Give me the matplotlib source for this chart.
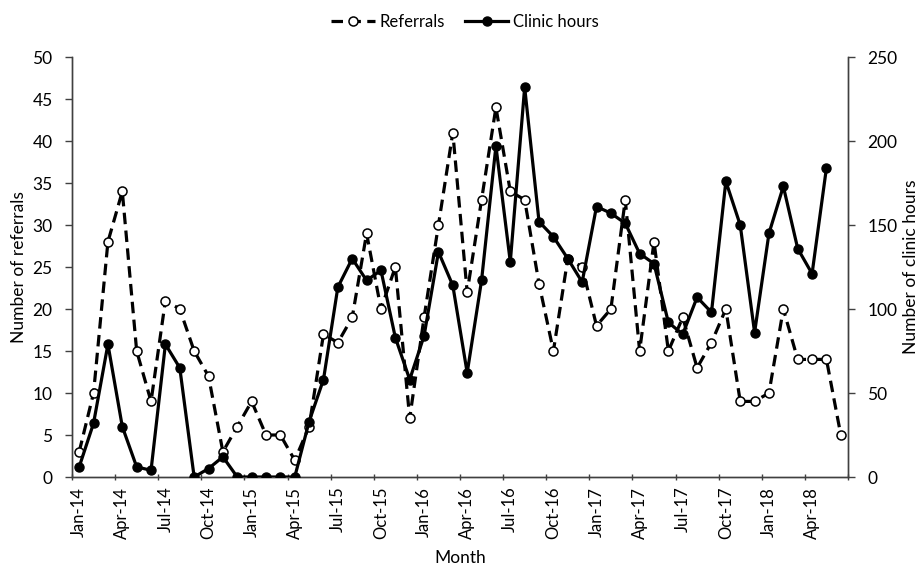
import matplotlib
matplotlib.use("Agg")
import matplotlib.pyplot as plt
import numpy as np

plt.rcParams['font.family'] = ['Lato', 'DejaVu Sans']

mon_names = ["Jan", "Feb", "Mar", "Apr", "May", "Jun", "Jul", "Aug", "Sep", "Oct", "Nov", "Dec"]
months = [f"{mon_names[i % 12]}-{14 + i // 12}" for i in range(54)]  # Jan-14 .. Jun-18

referrals = [3, 10, 28, 34, 15, 9, 21, 20, 15, 12, 3, 6, 9, 5, 5, 2,
             6, 17, 16, 19, 29, 20, 25, 7, 19, 30, 41, 22, 33, 44, 34, 33,
             23, 15, 26, 25, 18, 20, 33, 15, 28, 15, 19, 13, 16, 20, 9, 9,
             10, 20, 14, 14, 14, 5]

clinic_hours = [6, 32, 79, 30, 6, 4, 79, 65, 0, 5, 12, 0, 0, 0, 0, 0,
                33, 58, 113, 130, 117, 123, 83, 58, 84, 134, 114, 62, 117, 197, 128, 232,
                152, 143, 130, 116, 161, 157, 151, 133, 127, 92, 85, 107, 98, 176, 150, 86,
                145, 173, 136, 121, 184, np.nan]

x = np.arange(len(months))

fig = plt.figure(figsize=(9.21, 5.67), dpi=100)
ax = fig.add_axes([72/921, 1 - 477/567, (848 - 72)/921, (477 - 57)/567])
ax2 = ax.twinx()

axis_col = '#404040'
ref_line, = ax.plot(x, referrals, color='black', lw=2.3, dashes=(3.6, 2.0),
                    marker='o', markersize=6.5, markerfacecolor='white',
                    markeredgecolor='black', markeredgewidth=1.1, zorder=3)
clin_line, = ax2.plot(x, clinic_hours, color='black', lw=2.3, solid_joinstyle='round',
                      marker='o', markersize=6.5, markerfacecolor='black',
                      markeredgecolor='black', zorder=3)

ax.set_xlim(-0.5, len(months) - 0.5)
ax.set_ylim(0, 50)
ax2.set_ylim(0, 250)
ax.set_yticks(np.arange(0, 51, 5))
ax2.set_yticks(np.arange(0, 251, 50))

# category boundaries every 3 months as major ticks, labels at category centres
ax.set_xticks(np.arange(-0.5, len(months), 3))
ax.set_xticklabels([])
ax.set_xticks(x[::3], minor=True)
ax.set_xticklabels(months[::3], minor=True, rotation=90, fontsize=12)
ax.tick_params(axis='x', which='minor', length=0, pad=7)
ax.tick_params(axis='x', which='major', length=5, width=1.0, color=axis_col, direction='inout')
ax.tick_params(axis='y', length=5, width=1.0, color=axis_col, labelsize=12.5, pad=9)
ax2.tick_params(axis='y', length=5, width=1.0, color=axis_col, labelsize=12.5, pad=9)

for a in (ax, ax2):
    a.spines['top'].set_visible(False)
    for s in ('left', 'right', 'bottom'):
        a.spines[s].set_color(axis_col)
        a.spines[s].set_linewidth(1.0)

ax.set_xlabel("Month", fontsize=12.5, labelpad=8)
ax.set_ylabel("Number of referrals", fontsize=12.5, labelpad=4)
ax2.set_ylabel("Number of clinic hours", fontsize=12.5, labelpad=4)

fig.legend([ref_line, clin_line], ["Referrals", "Clinic hours"], loc='center',
           bbox_to_anchor=(0.505, 0.961), ncol=2, frameon=False, fontsize=12,
           handlelength=2.6, columnspacing=1.2, handletextpad=0.3)

fig.savefig("out.png", dpi=100)
